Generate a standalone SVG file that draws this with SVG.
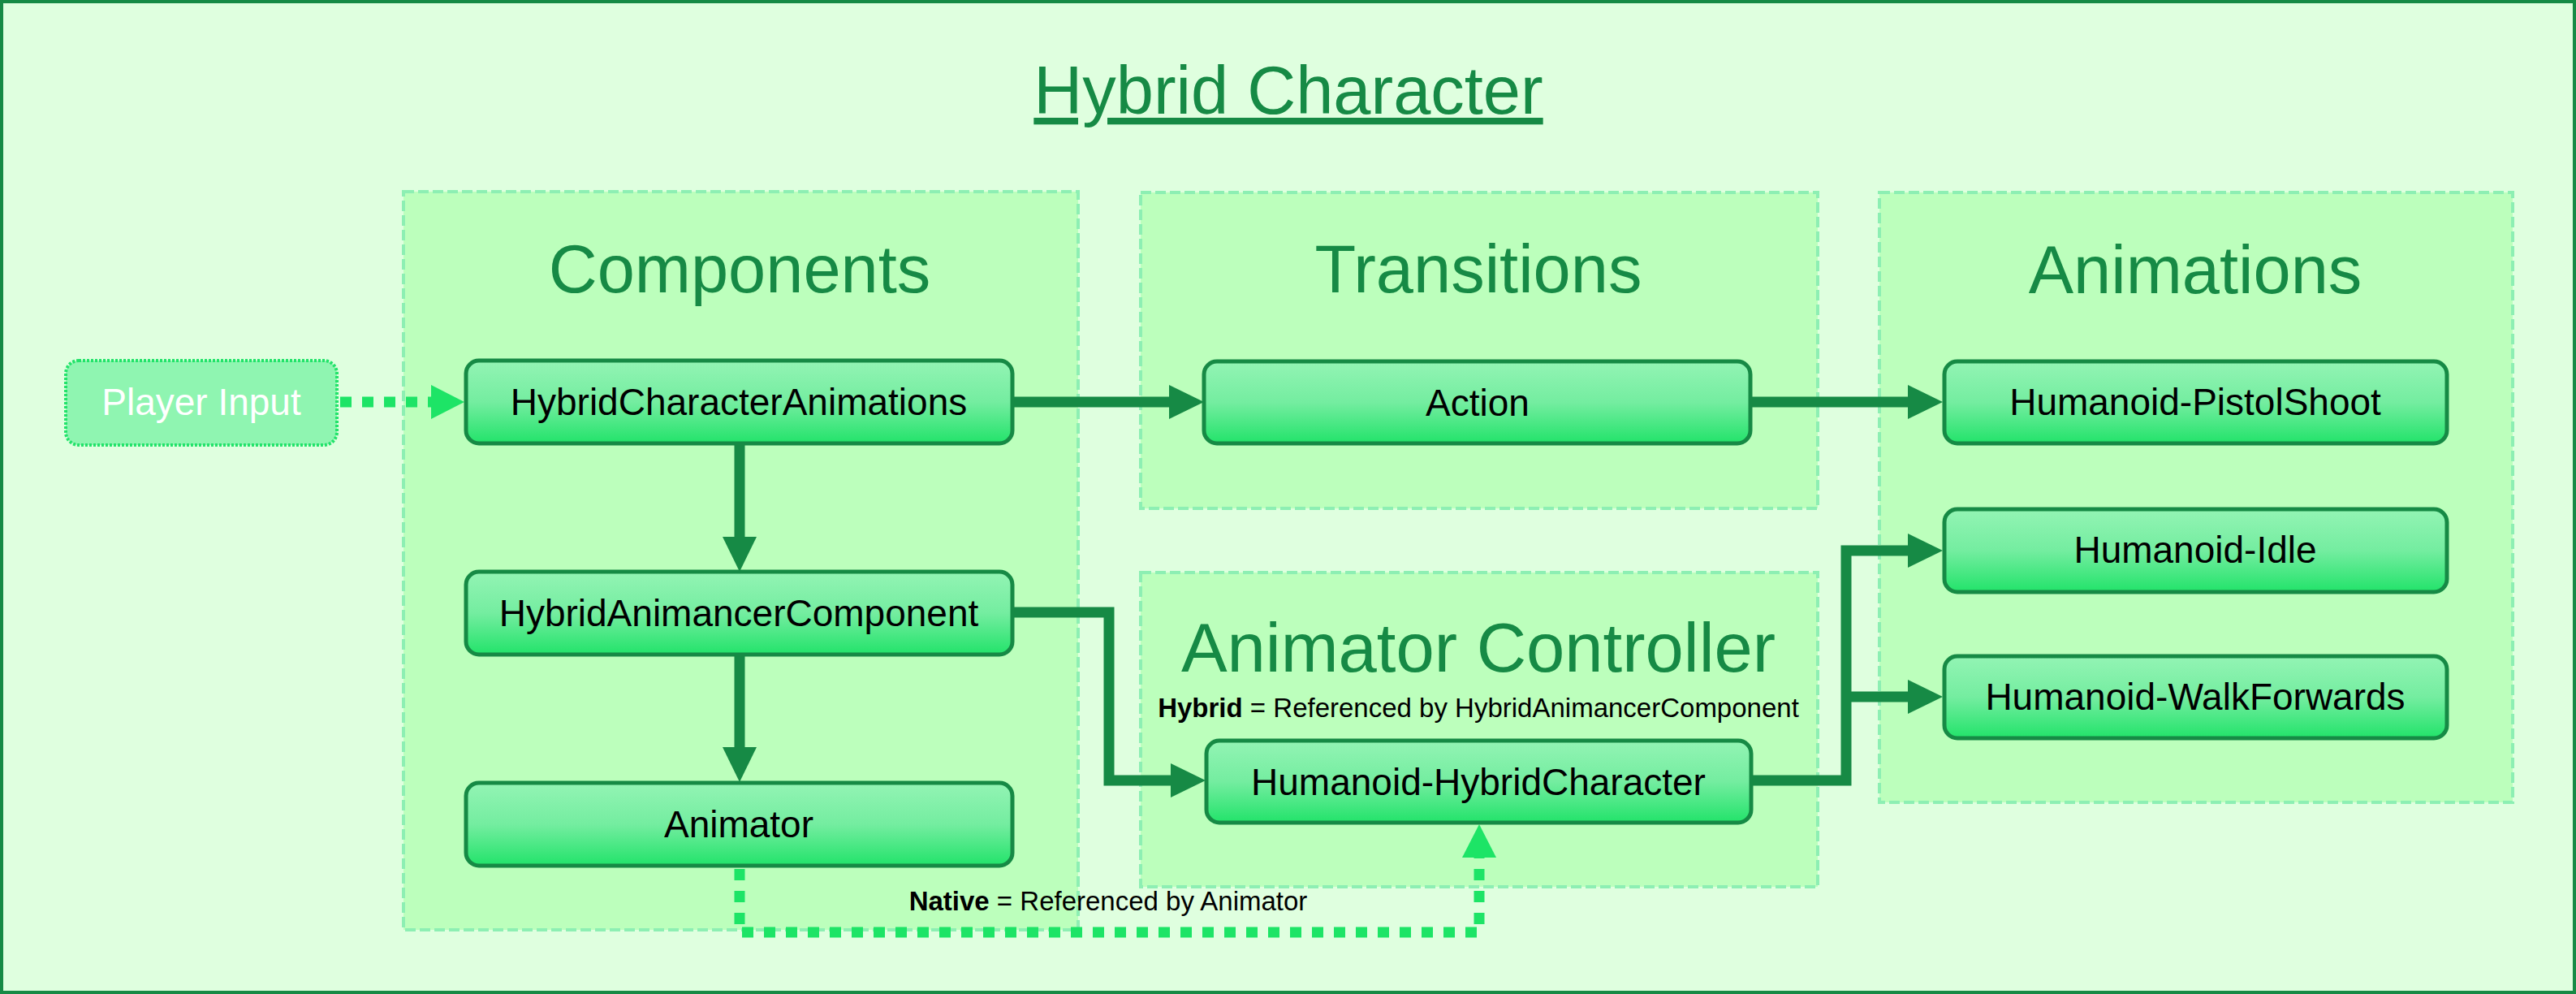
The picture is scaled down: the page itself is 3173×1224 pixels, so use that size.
<svg xmlns="http://www.w3.org/2000/svg" width="3173" height="1224" viewBox="0 0 3173 1224">
  <defs>
    <linearGradient id="nodeGrad" x1="0" y1="0" x2="0" y2="1">
      <stop offset="0" stop-color="#93F4B4"/>
      <stop offset="0.5" stop-color="#74EDA0"/>
      <stop offset="1" stop-color="#22E36A"/>
    </linearGradient>
    <marker id="headDark" markerUnits="userSpaceOnUse" markerWidth="44" markerHeight="42" viewBox="0 0 44 42" refX="0" refY="21" orient="auto">
      <polygon points="0,0 43,21 0,42" fill="#168A45"/>
    </marker>
    <marker id="headBright" markerUnits="userSpaceOnUse" markerWidth="44" markerHeight="42" viewBox="0 0 44 42" refX="0" refY="21" orient="auto">
      <polygon points="0,0 41,21 0,42" fill="#1DE466"/>
    </marker>
  </defs>
  <style>
    text { font-family: 'Liberation Sans', Arial, sans-serif; text-anchor: middle; }
    .heading { font-size: 83px; fill: #168A45; }
    .node rect { fill: url(#nodeGrad); stroke: #168A45; stroke-width: 5; }
    .node text { font-size: 46px; fill: #000000; }
    .group { fill: #BCFFBC; stroke: #8DEFB3; stroke-width: 4; stroke-dasharray: 13 5; }
    .note { font-size: 33px; fill: #000000; }
    .solid { fill: none; stroke: #168A45; stroke-width: 13; marker-end: url(#headDark); }
    .dotted { fill: none; stroke: #1DE466; stroke-width: 13; stroke-dasharray: 14 13; marker-end: url(#headBright); }
  </style>

  <rect id="background" x="2" y="2" width="3169" height="1220" fill="#DFFFDF" stroke="#168A45" stroke-width="4"/>

  <text id="title" class="heading" x="1587" y="140" text-decoration="underline">Hybrid Character</text>

  <g id="group-components">
    <rect class="group" x="497" y="236" width="831" height="909"/>
    <text class="heading" x="911" y="360">Components</text>
  </g>
  <g id="group-transitions">
    <rect class="group" x="1405" y="237" width="834" height="389"/>
    <text class="heading" x="1821" y="360">Transitions</text>
  </g>
  <g id="group-animator-controller">
    <rect class="group" x="1405" y="705" width="834" height="387"/>
    <text class="heading" x="1821" y="827" style="font-size:85px">Animator Controller</text>
    <text class="note" x="1821" y="883"><tspan font-weight="bold">Hybrid</tspan> = Referenced by HybridAnimancerComponent</text>
  </g>
  <g id="group-animations">
    <rect class="group" x="2315" y="237" width="780" height="751"/>
    <text class="heading" x="2704" y="361">Animations</text>
  </g>

  <g id="connectors">
    <path id="c-input-hca" class="dotted" d="M419,495 H531"/>
    <path id="c-hca-action" class="solid" d="M1249,495 H1440"/>
    <path id="c-action-pistol" class="solid" d="M2158,495 H2350"/>
    <path id="c-hca-hac" class="solid" d="M911,548 V661"/>
    <path id="c-hac-animator" class="solid" d="M911,807 V920"/>
    <path id="c-hac-hhc" class="solid" d="M1249,754 H1366 V961 H1442"/>
    <path id="c-hhc-idle" class="solid" d="M2159,961 H2274 V678 H2350"/>
    <path id="c-hhc-walk" class="solid" d="M2274,858 H2350"/>
    <path id="c-animator-hhc" class="dotted" d="M911,1070 V1148 H1822 V1056"/>
    <text id="native-note" class="note" x="1365" y="1121"><tspan font-weight="bold">Native</tspan> = Referenced by Animator</text>
  </g>

  <g id="node-player-input">
    <rect x="81" y="444" width="334" height="104" rx="16" fill="#8FF5B1" stroke="#22E36A" stroke-width="4" stroke-dasharray="3 2"/>
    <text x="248" y="511" style="font-size:46px; fill:#FFFFFF">Player Input</text>
  </g>
  <g id="node-hybrid-character-animations" class="node">
    <rect x="574" y="444" width="673" height="102" rx="16"/>
    <text x="910" y="511">HybridCharacterAnimations</text>
  </g>
  <g id="node-hybrid-animancer-component" class="node">
    <rect x="574" y="704" width="673" height="102" rx="16"/>
    <text x="910" y="771">HybridAnimancerComponent</text>
  </g>
  <g id="node-animator" class="node">
    <rect x="574" y="964" width="673" height="102" rx="16"/>
    <text x="910" y="1031">Animator</text>
  </g>
  <g id="node-action" class="node">
    <rect x="1483" y="445" width="673" height="101" rx="16"/>
    <text x="1820" y="512">Action</text>
  </g>
  <g id="node-humanoid-hybrid-character" class="node">
    <rect x="1486" y="912" width="671" height="101" rx="16"/>
    <text x="1821" y="979">Humanoid-HybridCharacter</text>
  </g>
  <g id="node-humanoid-pistol-shoot" class="node">
    <rect x="2395" y="445" width="619" height="101" rx="16"/>
    <text x="2704" y="511">Humanoid-PistolShoot</text>
  </g>
  <g id="node-humanoid-idle" class="node">
    <rect x="2395" y="627" width="619" height="102" rx="16"/>
    <text x="2704" y="693">Humanoid-Idle</text>
  </g>
  <g id="node-humanoid-walk-forwards" class="node">
    <rect x="2395" y="808" width="619" height="101" rx="16"/>
    <text x="2704" y="874">Humanoid-WalkForwards</text>
  </g>
</svg>
